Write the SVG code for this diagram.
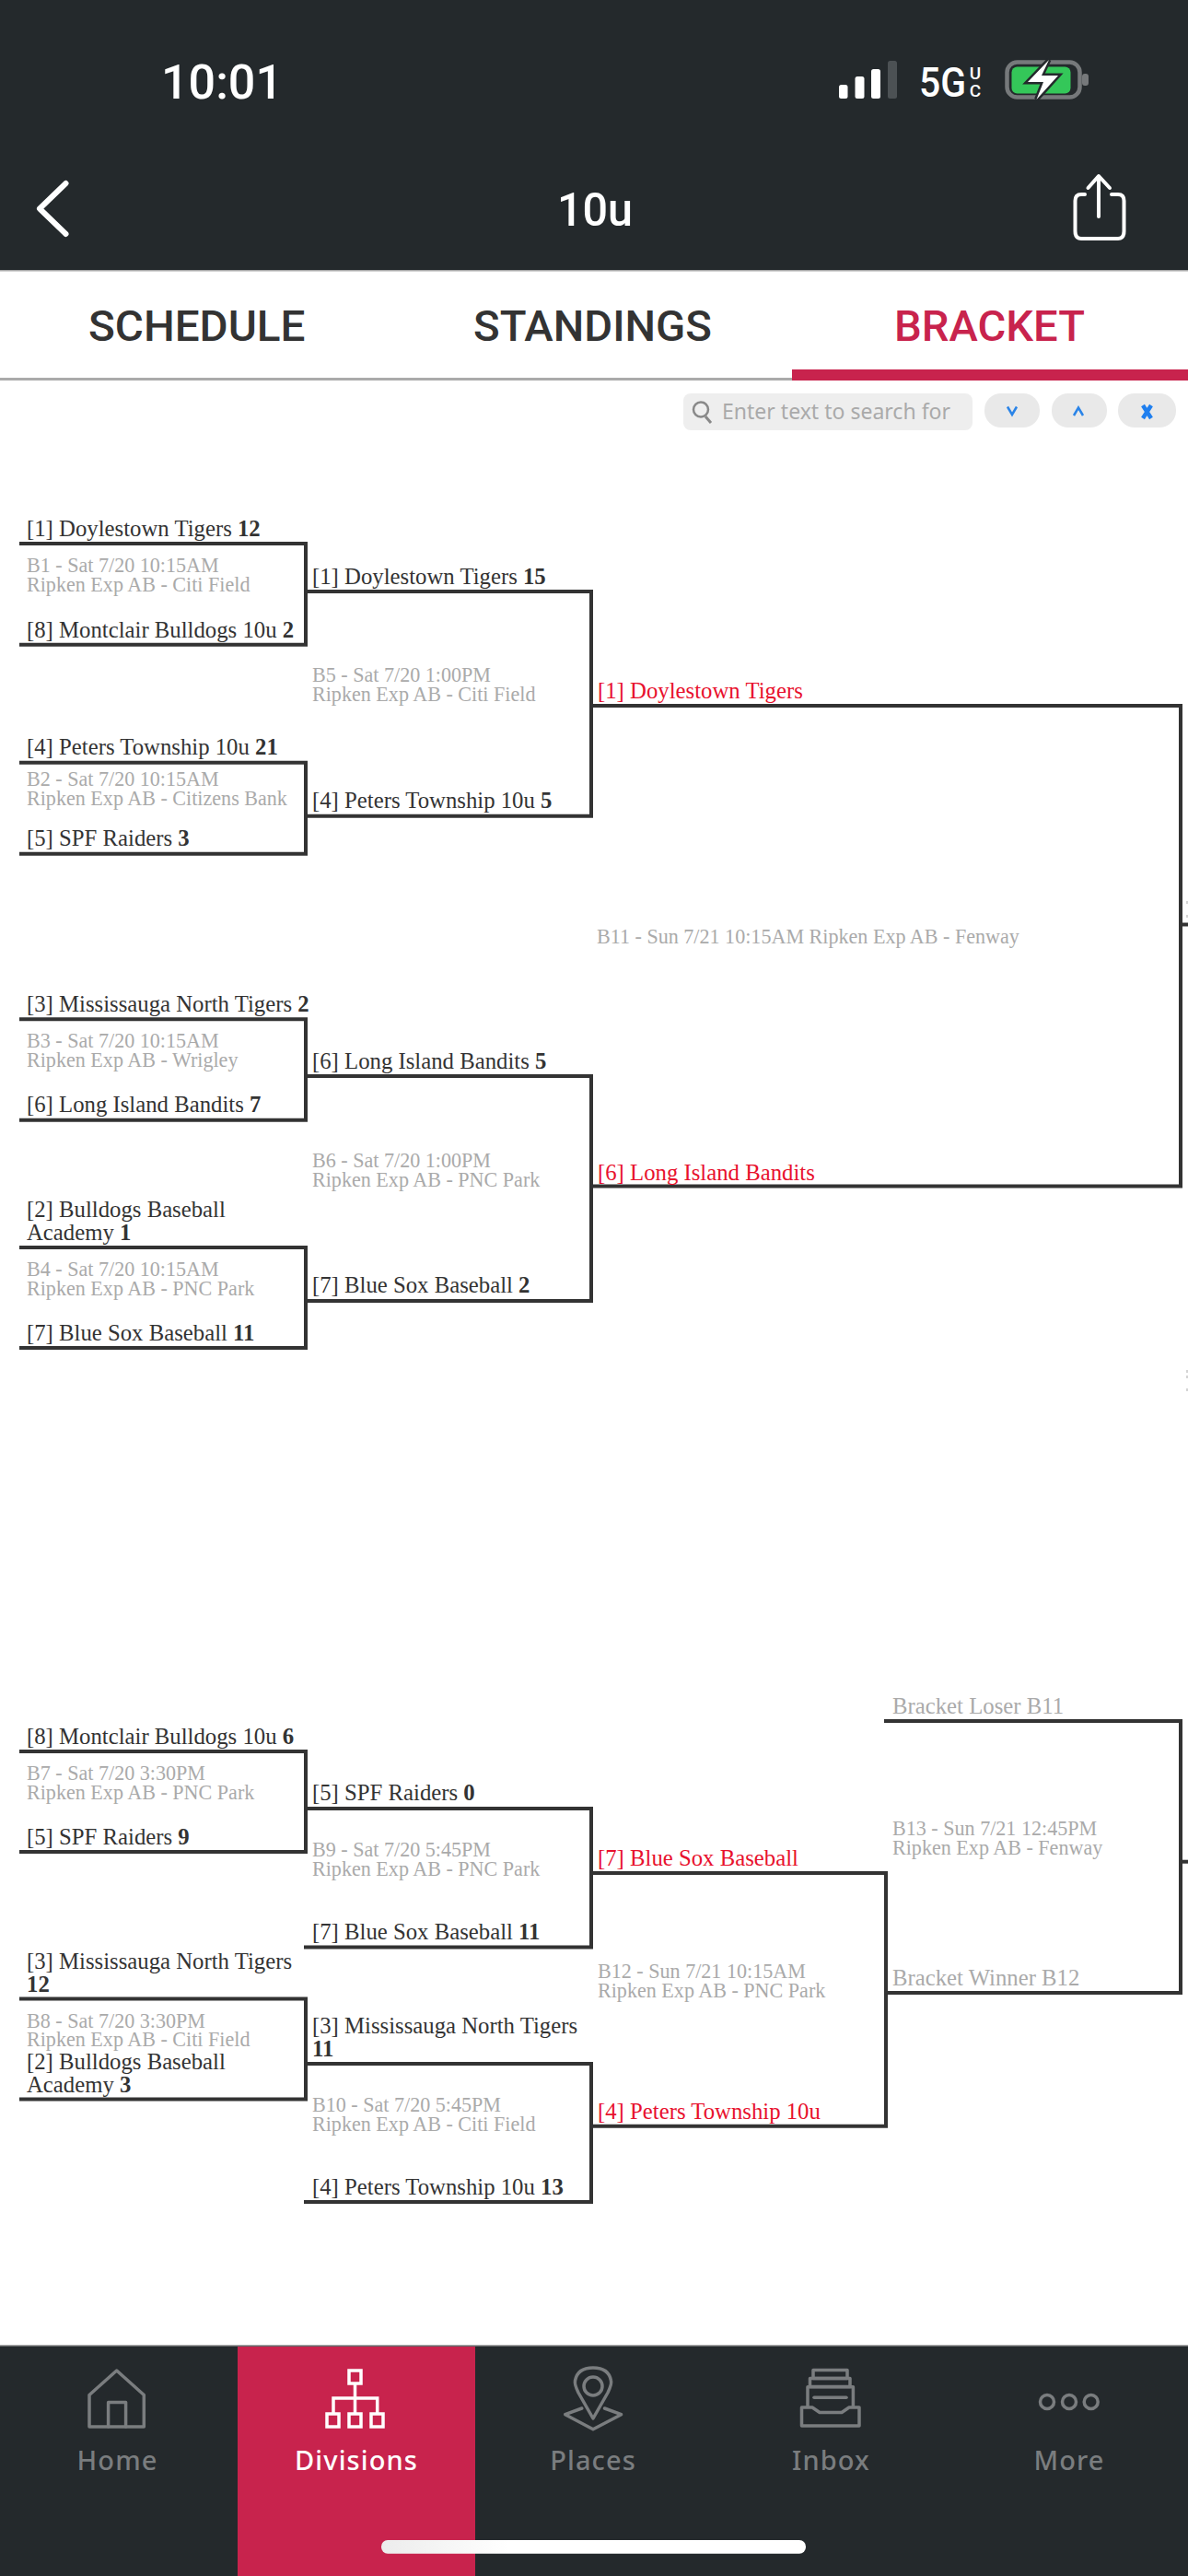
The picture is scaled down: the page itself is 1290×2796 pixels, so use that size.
<svg xmlns="http://www.w3.org/2000/svg" width="1290" height="2796" viewBox="0 0 1290 2796">
<defs>
<linearGradient id="barGrad" x1="414" x2="875" y1="0" y2="0" gradientUnits="userSpaceOnUse"><stop offset="0" stop-color="#ececec"/><stop offset="0.3" stop-color="#ffffff"/></linearGradient>
</defs>
<style>
text{font-family:"Liberation Serif","Times New Roman",serif}
.t{font-size:24.75px;fill:#333}
.t tspan.b{font-weight:700}
.g{font-size:22.1px;fill:#aaa}
.l{font-size:24.75px;fill:#aaa}
.r{font-size:24.75px;fill:#e8112d}
.ui{font-family:Roboto,"Liberation Sans",sans-serif}
.tab{font-family:Roboto,"Liberation Sans",sans-serif;font-size:47px;font-weight:500;fill:#333}
.nav{font-family:"Noto Sans","Liberation Sans",sans-serif;font-size:29px;font-weight:500;fill:#7a7d7f;text-anchor:middle;letter-spacing:1.1px}
.ic{fill:none;stroke:#7a7d7f;stroke-width:3.5;stroke-linejoin:round;stroke-linecap:round}
.wl{fill:none;stroke:#fff;stroke-width:3.5}
.conn{fill:none;stroke:#333;stroke-width:4}
.btn{fill:#e9e9e9}
.bl{fill:none;stroke:#2a84e8;stroke-width:2.5}
.mk{fill:#d4d4d4}
</style>
<rect width="1290" height="2796" fill="#fff"/>
<g id="header">
<rect width="1290" height="293" fill="#24292c"/>
<rect y="293" width="1290" height="1.5" fill="#a8a8a8"/>
<text class="ui" x="175" y="106.5" font-size="52" font-weight="500" fill="#fff" textLength="132" lengthAdjust="spacingAndGlyphs">10:01</text>
<g id="signal">
<rect x="911" y="92" width="9.5" height="15" rx="2.5" fill="#fff"/>
<rect x="928.5" y="83" width="10" height="24" rx="2.5" fill="#fff"/>
<rect x="946" y="75" width="10" height="32" rx="2.5" fill="#fff"/>
<rect x="964" y="66" width="10" height="41" rx="2.5" fill="#4c5154"/>
</g>
<text class="ui" x="998" y="105" font-size="45" font-weight="500" fill="#fff" textLength="51" lengthAdjust="spacingAndGlyphs">5G</text>
<text class="ui" x="1059" y="86" font-size="19" font-weight="500" fill="#fff" text-anchor="middle">U</text>
<text class="ui" x="1059" y="105" font-size="19" font-weight="500" fill="#fff" text-anchor="middle">C</text>
<g id="battery">
<rect x="1093.500" y="67.500" width="79" height="38" rx="11" fill="none" stroke="#76797b" stroke-width="4.500"/>
<rect x="1175" y="80" width="7" height="13" rx="3" fill="#76797b"/>
<rect x="1098.500" y="72.500" width="64" height="29" rx="6" fill="#34c759"/>
<path d="M1139 65L1116 89H1133L1125.500 108L1149 82H1131Z" fill="#fff" stroke="#24292c" stroke-width="5" paint-order="stroke"/>
</g>
<path d="M71.500 199L43 226.500L71.500 254" fill="none" stroke="#fff" stroke-width="6" stroke-linecap="round" stroke-linejoin="round"/>
<text class="ui" x="605" y="245" font-size="50" font-weight="500" fill="#fff" textLength="82" lengthAdjust="spacingAndGlyphs">10u</text>
<g id="share" fill="none" stroke="#fff" stroke-width="4" stroke-linecap="round" stroke-linejoin="round">
<path d="M1178 211H1174Q1167.500 211 1167.500 218V251Q1167.500 259 1174 259H1214Q1220.500 259 1220.500 251V218Q1220.500 211 1214 211H1207"/>
<path d="M1193 192V235"/>
<path d="M1181.500 204L1193 191L1205 204"/>
</g>
</g>
<g id="tabs">
<text class="tab" x="96" y="370" textLength="235.500" lengthAdjust="spacingAndGlyphs">SCHEDULE</text>
<text class="tab" x="514" y="370" textLength="259" lengthAdjust="spacingAndGlyphs">STANDINGS</text>
<text class="tab" x="971" y="370" textLength="207" lengthAdjust="spacingAndGlyphs" style="fill:#c8234d">BRACKET</text>
<rect y="410" width="860" height="3" fill="#aaa"/>
<rect x="860" y="401" width="430" height="12" fill="#c8234d"/>
</g>
<g id="search">
<rect x="742" y="427" width="314" height="40" rx="8" fill="#eee"/>
<circle cx="761" cy="444.500" r="8" fill="none" stroke="#888" stroke-width="2.500"/>
<path d="M766 452L772 459" stroke="#888" stroke-width="3"/>
<text x="784" y="455" font-size="23" fill="#aaa" textLength="248" lengthAdjust="spacingAndGlyphs" style="font-family:'Noto Sans','Liberation Sans',sans-serif">Enter text to search for</text>
<rect class="btn" x="1069" y="427" width="60" height="37" rx="18"/>
<path class="bl" d="M1094 441.500L1099 450L1104 441.500"/>
<rect class="btn" x="1142" y="427" width="60" height="37" rx="18"/>
<path class="bl" d="M1166 451L1171 442.500L1176 451"/>
<rect class="btn" x="1214" y="427" width="63" height="37" rx="18"/>
<path d="M1241 440L1250 454M1250 440L1241 454" stroke="#1f7fef" stroke-width="4.500" fill="none"/>
</g>
<g id="connectors" class="conn">
<path d="M21 590H332V699.700H21"/>
<path d="M21 827.700H332V926.700H21"/>
<path d="M21 1106.300H332V1215.700H21"/>
<path d="M21 1354H332V1463H21"/>
<path d="M332 642H642V885.700H332"/>
<path d="M332 1168H642V1412H332"/>
<path d="M642 766H1282V1287.500H642"/>
<path d="M1282 1003.500H1290"/>
<path d="M21 1901H332V2010H21"/>
<path d="M21 2169.600H332V2278.600H21"/>
<path d="M330 1963H642V2113.600H330"/>
<path d="M330 2240H642V2390H330"/>
<path d="M642 2033H962V2307.700H642"/>
<path d="M960 1868H1282V2163H962"/>
<path d="M1282 2020.700H1290"/>
</g>
<g id="clipped-marks">
<rect class="mk" x="1288" y="978" width="2" height="3"/>
<rect class="mk" x="1288" y="993" width="2" height="3"/>
<rect class="mk" x="1288" y="1487" width="2" height="3"/>
<rect class="mk" x="1288" y="1493" width="2" height="3"/>
<rect class="mk" x="1288" y="1507" width="2" height="3"/>
</g>
<g id="game-b1"><text class="t" x="29" y="582">[1] Doylestown Tigers <tspan class="b">12</tspan></text><text class="g" x="29" y="621">B1 - Sat 7/20 10:15AM</text><text class="g" x="29" y="641.700">Ripken Exp AB - Citi Field</text><text class="t" x="29" y="691.700">[8] Montclair Bulldogs 10u <tspan class="b">2</tspan></text></g>
<g id="game-b2"><text class="t" x="29" y="819">[4] Peters Township 10u <tspan class="b">21</tspan></text><text class="g" x="29" y="853.300">B2 - Sat 7/20 10:15AM</text><text class="g" x="29" y="874">Ripken Exp AB - Citizens Bank</text><text class="t" x="29" y="918">[5] SPF Raiders <tspan class="b">3</tspan></text></g>
<g id="game-b3"><text class="t" x="29" y="1097.700">[3] Mississauga North Tigers <tspan class="b">2</tspan></text><text class="g" x="29" y="1137.300">B3 - Sat 7/20 10:15AM</text><text class="g" x="29" y="1158.300">Ripken Exp AB - Wrigley</text><text class="t" x="29" y="1207.300">[6] Long Island Bandits <tspan class="b">7</tspan></text></g>
<g id="game-b4"><text class="t" x="29" y="1321">[2] Bulldogs Baseball</text><text class="t" x="29" y="1345.700">Academy <tspan class="b">1</tspan></text><text class="g" x="29" y="1385">B4 - Sat 7/20 10:15AM</text><text class="g" x="29" y="1406">Ripken Exp AB - PNC Park</text><text class="t" x="29" y="1455">[7] Blue Sox Baseball <tspan class="b">11</tspan></text></g>
<g id="game-b5"><text class="t" x="339" y="634">[1] Doylestown Tigers <tspan class="b">15</tspan></text><text class="g" x="339" y="740">B5 - Sat 7/20 1:00PM</text><text class="g" x="339" y="760.700">Ripken Exp AB - Citi Field</text><text class="t" x="339" y="877">[4] Peters Township 10u <tspan class="b">5</tspan></text></g>
<g id="game-b6"><text class="t" x="339" y="1160">[6] Long Island Bandits <tspan class="b">5</tspan></text><text class="g" x="339" y="1266.700">B6 - Sat 7/20 1:00PM</text><text class="g" x="339" y="1287.700">Ripken Exp AB - PNC Park</text><text class="t" x="339" y="1403.300">[7] Blue Sox Baseball <tspan class="b">2</tspan></text></g>
<g id="game-b11"><text class="r" x="649" y="758">[1] Doylestown Tigers</text><text class="g" x="648" y="1024.400">B11 - Sun 7/21 10:15AM Ripken Exp AB - Fenway</text><text class="r" x="649" y="1280.700">[6] Long Island Bandits</text></g>
<g id="game-b7"><text class="t" x="29" y="1893">[8] Montclair Bulldogs 10u <tspan class="b">6</tspan></text><text class="g" x="29" y="1932">B7 - Sat 7/20 3:30PM</text><text class="g" x="29" y="1953">Ripken Exp AB - PNC Park</text><text class="t" x="29" y="2002">[5] SPF Raiders <tspan class="b">9</tspan></text></g>
<g id="game-b8"><text class="t" x="29" y="2136.800">[3] Mississauga North Tigers</text><text class="t" x="29" y="2161.800"><tspan class="b">12</tspan></text><text class="g" x="29" y="2200.700">B8 - Sat 7/20 3:30PM</text><text class="g" x="29" y="2221.400">Ripken Exp AB - Citi Field</text><text class="t" x="29" y="2245.700">[2] Bulldogs Baseball</text><text class="t" x="29" y="2270.700">Academy <tspan class="b">3</tspan></text></g>
<g id="game-b9"><text class="t" x="339" y="1954.300">[5] SPF Raiders <tspan class="b">0</tspan></text><text class="g" x="339" y="2015">B9 - Sat 7/20 5:45PM</text><text class="g" x="339" y="2035.700">Ripken Exp AB - PNC Park</text><text class="t" x="339" y="2105.400">[7] Blue Sox Baseball <tspan class="b">11</tspan></text></g>
<g id="game-b10"><text class="t" x="339" y="2207">[3] Mississauga North Tigers</text><text class="t" x="339" y="2232"><tspan class="b">11</tspan></text><text class="g" x="339" y="2291.800">B10 - Sat 7/20 5:45PM</text><text class="g" x="339" y="2312.500">Ripken Exp AB - Citi Field</text><text class="t" x="339" y="2382">[4] Peters Township 10u <tspan class="b">13</tspan></text></g>
<g id="game-b12"><text class="r" x="649" y="2025">[7] Blue Sox Baseball</text><text class="g" x="649" y="2147">B12 - Sun 7/21 10:15AM</text><text class="g" x="649" y="2168">Ripken Exp AB - PNC Park</text><text class="r" x="649" y="2300">[4] Peters Township 10u</text></g>
<g id="game-b13"><text class="l" x="969" y="1860">Bracket Loser B11</text><text class="g" x="969" y="1992">B13 - Sun 7/21 12:45PM</text><text class="g" x="969" y="2013">Ripken Exp AB - Fenway</text><text class="l" x="969" y="2155">Bracket Winner B12</text></g>
<g id="tabbar">
<rect y="2546" width="1290" height="250" fill="#24292c"/>
<rect y="2545" width="1290" height="1.500" fill="#a8a8a8"/>
<rect x="258" y="2547" width="258" height="249" fill="#c8234d"/>
<g id="nav-home">
<path class="ic" d="M126.700 2573L97 2599.500V2634H156.300V2599.500Z"/>
<path class="ic" d="M117.600 2634V2607.500H136.600V2634"/>
<text class="nav" x="127.500" y="2681">Home</text>
</g>
<g id="nav-divisions">
<rect class="wl" x="379" y="2573" width="13" height="14"/>
<path class="wl" d="M385.500 2587V2620M362 2619V2603H409.700V2619" stroke-width="2.500"/>
<rect class="wl" x="355" y="2620" width="13" height="14"/>
<rect class="wl" x="379" y="2620" width="13" height="14"/>
<rect class="wl" x="403" y="2620" width="13" height="14"/>
<text class="nav" x="387" y="2681" style="fill:#fff">Divisions</text>
</g>
<g id="nav-places">
<path class="ic" d="M644 2625L628 2597Q623.600 2588 624.500 2584Q627 2570 644 2570Q661 2570 663.500 2584Q664.400 2588 660 2597Z"/>
<circle class="ic" cx="644" cy="2590" r="10"/>
<path class="ic" d="M631.800 2614L613.700 2620.700L644 2636.700L674.600 2620.700L656.500 2614"/>
<text class="nav" x="644" y="2681">Places</text>
</g>
<g id="nav-inbox">
<rect class="ic" x="883" y="2572.500" width="37" height="9"/>
<rect class="ic" x="879.500" y="2581.500" width="43.500" height="9"/>
<path class="ic" d="M877 2612V2590.700H926.400V2612"/>
<path class="ic" d="M884 2602.300H919"/>
<path class="ic" d="M870.500 2613H882L890 2618.500H914L922 2613H933V2633H870.500Z"/>
<text class="nav" x="902.500" y="2681">Inbox</text>
</g>
<g id="nav-more">
<circle class="ic" cx="1137" cy="2607" r="7.500"/>
<circle class="ic" cx="1161" cy="2607" r="7.500"/>
<circle class="ic" cx="1184.700" cy="2607" r="7.500"/>
<text class="nav" x="1161" y="2681">More</text>
</g>
<rect id="home-bar" x="414" y="2757" width="461" height="14.700" rx="7" fill="url(#barGrad)"/>
</g>
</svg>
